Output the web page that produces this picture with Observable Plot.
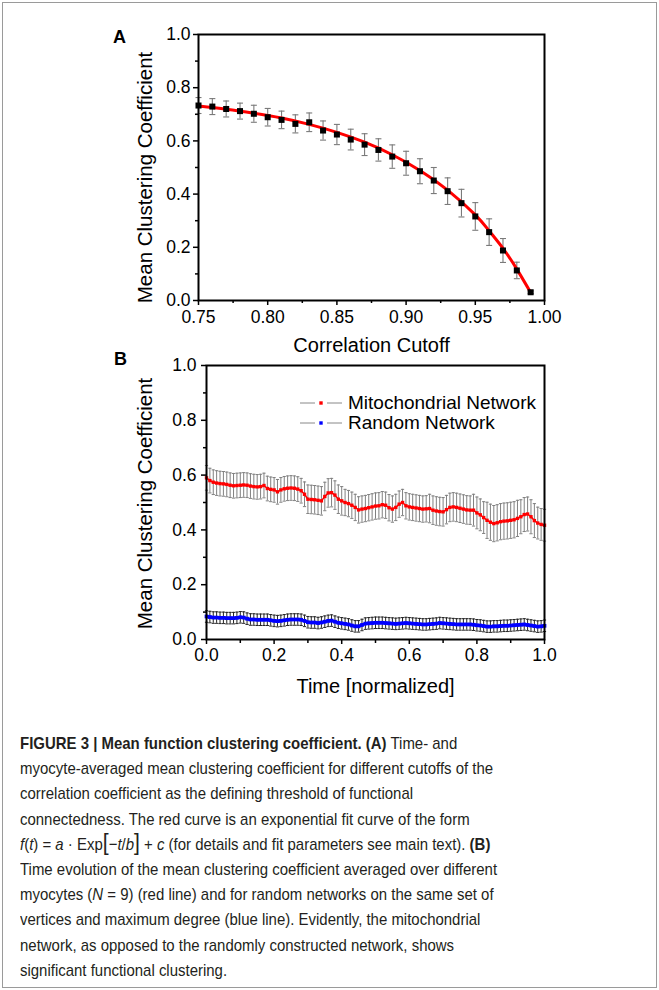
<!DOCTYPE html>
<html><head><meta charset="utf-8">
<script src="https://cdn.jsdelivr.net/npm/d3@7"></script>
<script src="https://cdn.jsdelivr.net/npm/@observablehq/plot@0.6"></script>
<style>
html,body{margin:0;padding:0;background:#fff;}
body{width:659px;height:990px;position:relative;overflow:hidden;font-family:"Liberation Sans",Arial,sans-serif;color:#000;}
#box{position:absolute;left:2px;top:2px;width:655px;height:986px;border:1px solid #9a9a9a;box-sizing:border-box;}
.panel{position:absolute;left:0;}
.plab{position:absolute;font-weight:bold;font-size:18px;line-height:18px;}
#legend{position:absolute;left:298px;top:393px;font-size:19px;line-height:20px;}
#legend .row{display:flex;align-items:center;height:20px;}
#legend svg{margin-right:4px;}
#caption{position:absolute;left:20px;top:731px;white-space:nowrap;font-family:"Liberation Sans Narrow","Liberation Sans",Arial,sans-serif;font-size:17px;line-height:25.2px;color:#231f20;transform:scaleX(0.88);transform-origin:0 0;}
#caption .bk{font-size:24px;line-height:10px;font-weight:300;}
</style></head>
<body>
<div id="box"></div>
<div id="panelA" class="panel" style="top:0px"></div>
<div id="panelB" class="panel" style="top:340px"></div>
<div class="plab" style="left:113px;top:28px">A</div>
<div class="plab" style="left:114px;top:350px">B</div>
<div id="legend">
  <div class="row"><svg width="46" height="20"><line x1="2" x2="17" y1="10" y2="10" stroke="#888" stroke-width="1"/><rect x="21.3" y="8.3" width="3.4" height="3.4" fill="#ff0000"/><line x1="29" x2="44" y1="10" y2="10" stroke="#888" stroke-width="1"/></svg><span>Mitochondrial Network</span></div>
  <div class="row"><svg width="46" height="20"><line x1="2" x2="17" y1="10" y2="10" stroke="#888" stroke-width="1"/><rect x="21.3" y="8.3" width="3.4" height="3.4" fill="#0000ff"/><line x1="29" x2="44" y1="10" y2="10" stroke="#888" stroke-width="1"/></svg><span>Random Network</span></div>
</div>
<div id="caption">
<b>FIGURE 3 | Mean function clustering coefficient. (A)</b> Time- and<br>
myocyte-averaged mean clustering coefficient for different cutoffs of the<br>
correlation coefficient as the defining threshold of functional<br>
connectedness. The red curve is an exponential fit curve of the form<br>
<i>f</i>(<i>t</i>) = <i>a</i> · Exp<span class="bk">[</span>−<i>t</i>/<i>b</i><span class="bk">]</span> + <i>c</i> (for details and fit parameters see main text). <b>(B)</b><br>
Time evolution of the mean clustering coefficient averaged over different<br>
myocytes (<i>N</i> = 9) (red line) and for random networks on the same set of<br>
vertices and maximum degree (blue line). Evidently, the mitochondrial<br>
network, as opposed to the randomly constructed network, shows<br>
significant functional clustering.
</div>
<script>
// ---------- Panel A data ----------
const cutoffA = [0.75,0.76,0.77,0.78,0.79,0.80,0.81,0.82,0.83,0.84,0.85,0.86,0.87,0.88,0.89,0.90,0.91,0.92,0.93,0.94,0.95,0.96,0.97,0.98,0.99];
const meanA   = [0.733,0.729,0.720,0.712,0.702,0.689,0.679,0.664,0.670,0.639,0.624,0.605,0.586,0.566,0.541,0.516,0.486,0.451,0.411,0.366,0.316,0.257,0.188,0.113,0.031];
const errA    = [0.030,0.030,0.030,0.030,0.032,0.033,0.033,0.034,0.035,0.036,0.038,0.039,0.041,0.042,0.044,0.045,0.047,0.049,0.050,0.052,0.052,0.050,0.045,0.031,0.005];
const fitXA   = [0.75,0.77,0.79,0.81,0.83,0.85,0.87,0.89,0.91,0.93,0.95,0.96,0.97,0.98,0.99];
const fitYA   = [0.731,0.719,0.704,0.686,0.662,0.632,0.595,0.548,0.489,0.415,0.322,0.262,0.196,0.118,0.030];
const xTicksA = [0.75,0.80,0.85,0.90,0.95,1.00];
const xMinorA = [0.775,0.825,0.875,0.925,0.975];
const yTicks  = [0,0.2,0.4,0.6,0.8,1.0];
const yMinor  = [0.1,0.3,0.5,0.7,0.9];
const xTitleA = "Correlation Cutoff";
const yTitle  = "Mean Clustering Coefficient";

// ---------- Panel B data ----------
const xTicksB = [0,0.2,0.4,0.6,0.8,1.0];
const xMinorB = [0.1,0.3,0.5,0.7,0.9];
const xTitleB = "Time [normalized]";
const mitoB = [
0.590,0.580,0.574,0.571,0.569,0.568,0.566,0.563,0.561,0.562,
0.563,0.564,0.563,0.560,0.558,0.557,0.558,0.562,0.551,0.548,
0.546,0.539,0.546,0.550,0.552,0.553,0.552,0.549,0.543,0.530,
0.512,0.511,0.510,0.508,0.506,0.522,0.535,0.536,0.527,0.512,
0.506,0.500,0.496,0.490,0.482,0.473,0.476,0.478,0.481,0.484,
0.487,0.488,0.492,0.490,0.481,0.476,0.482,0.494,0.500,0.488,
0.484,0.482,0.480,0.478,0.476,0.477,0.478,0.472,0.469,0.467,
0.466,0.474,0.482,0.484,0.482,0.479,0.476,0.473,0.472,0.472,
0.462,0.455,0.445,0.435,0.428,0.423,0.426,0.430,0.432,0.433,
0.435,0.437,0.442,0.448,0.456,0.458,0.448,0.434,0.425,0.420,
0.417];
const mitoErrB = [
0.045,0.045,0.045,0.045,0.045,0.045,0.045,0.045,0.045,0.045,
0.045,0.045,0.045,0.045,0.045,0.045,0.045,0.045,0.045,0.045,
0.045,0.045,0.045,0.045,0.045,0.045,0.045,0.045,0.045,0.045,
0.052,0.052,0.052,0.052,0.052,0.052,0.052,0.052,0.052,0.052,
0.052,0.048,0.048,0.048,0.048,0.048,0.048,0.048,0.048,0.048,
0.048,0.048,0.048,0.048,0.048,0.048,0.048,0.048,0.048,0.048,
0.048,0.048,0.048,0.048,0.048,0.048,0.052,0.052,0.052,0.052,
0.052,0.052,0.052,0.052,0.052,0.052,0.052,0.052,0.052,0.058,
0.058,0.058,0.058,0.066,0.066,0.066,0.066,0.066,0.066,0.066,
0.066,0.066,0.066,0.062,0.062,0.062,0.062,0.062,0.058,0.058,
0.058];
const randB = [
0.084,0.082,0.080,0.080,0.079,0.079,0.078,0.078,0.078,0.079,
0.081,0.080,0.076,0.073,0.073,0.072,0.072,0.072,0.072,0.070,
0.068,0.067,0.068,0.070,0.072,0.073,0.073,0.073,0.072,0.068,
0.063,0.062,0.062,0.060,0.062,0.065,0.068,0.069,0.065,0.061,
0.059,0.057,0.055,0.051,0.048,0.048,0.053,0.058,0.059,0.060,
0.061,0.061,0.061,0.060,0.059,0.058,0.057,0.058,0.059,0.060,
0.059,0.058,0.057,0.056,0.055,0.055,0.056,0.057,0.058,0.060,
0.059,0.058,0.057,0.056,0.055,0.055,0.055,0.055,0.055,0.054,
0.052,0.051,0.049,0.047,0.047,0.048,0.048,0.049,0.050,0.050,
0.051,0.052,0.053,0.054,0.055,0.053,0.051,0.049,0.047,0.048,
0.050];
const randErrB = [
0.021,0.021,0.021,0.021,0.021,0.021,0.021,0.021,0.021,0.021,
0.021,0.021,0.021,0.021,0.021,0.021,0.021,0.021,0.021,0.021,
0.021,0.021,0.021,0.021,0.021,0.021,0.021,0.021,0.021,0.021,
0.021,0.021,0.021,0.021,0.021,0.021,0.021,0.021,0.021,0.021,
0.021,0.021,0.021,0.021,0.021,0.021,0.021,0.021,0.021,0.021,
0.021,0.021,0.021,0.021,0.021,0.021,0.021,0.021,0.021,0.021,
0.021,0.021,0.021,0.021,0.021,0.021,0.021,0.021,0.021,0.021,
0.021,0.021,0.021,0.021,0.021,0.021,0.021,0.021,0.021,0.021,
0.021,0.021,0.021,0.021,0.021,0.021,0.021,0.021,0.021,0.021,
0.021,0.021,0.021,0.021,0.021,0.021,0.021,0.021,0.021,0.021,
0.021];
const timeB = mitoB.map((_, i) => i / (mitoB.length - 1));

// ---------- tables ----------
const dataA = cutoffA.map((x, i) => ({x, y: meanA[i], e: errA[i]}));
const fitA = fitXA.map((x, i) => ({x, y: fitYA[i]}));
const mito = timeB.map((x, i) => ({x, y: mitoB[i], e: mitoErrB[i]}));
const rand = timeB.map((x, i) => ({x, y: randB[i], e: randErrB[i]}));

const cap = (w) => ({draw(ctx) { ctx.moveTo(-w, 0); ctx.lineTo(w, 0); }});
const font = "'Liberation Sans', Arial, sans-serif";
const style = {background: "transparent", color: "black", fontFamily: font, overflow: "visible"};
const noText = () => "";

function errorMarks(data, color, capW, sw) {
  return [
    Plot.ruleX(data, {x: "x", y1: d => d.y - d.e, y2: d => d.y + d.e, stroke: color, strokeWidth: sw}),
    Plot.dot(data, {x: "x", y: d => d.y + d.e, symbol: cap(capW), r: 3, stroke: color, strokeWidth: sw, fill: "none"}),
    Plot.dot(data, {x: "x", y: d => d.y - d.e, symbol: cap(capW), r: 3, stroke: color, strokeWidth: sw, fill: "none"})
  ];
}

const plotA = Plot.plot({
  width: 659, height: 360,
  marginLeft: 198, marginRight: 115, marginTop: 34, marginBottom: 60,
  style,
  x: {domain: [0.75, 1.0]},
  y: {domain: [0, 1]},
  marks: [
    Plot.axisX(xTicksA, {tickSize: 5, tickPadding: 5, tickFormat: d3.format(".2f"), fontSize: 17.5, label: null, strokeWidth: 1.5}),
    Plot.axisX(xMinorA, {tickSize: 3, tickFormat: noText, label: null, strokeWidth: 1.5}),
    Plot.axisY(yTicks, {tickSize: 5, tickPadding: 3, tickFormat: d3.format(".1f"), fontSize: 17.5, label: null, strokeWidth: 1.5}),
    Plot.axisY(yMinor, {tickSize: 3, tickFormat: noText, label: null, strokeWidth: 1.5}),
    ...errorMarks(dataA, "#7a7a7a", 3, 1.1),
    Plot.line(fitA, {x: "x", y: "y", stroke: "#ff0000", strokeWidth: 3, curve: "natural"}),
    Plot.dot(dataA, {x: "x", y: "y", symbol: "square", r: 3.4, fill: "#000"}),
    Plot.frame({stroke: "#000", strokeWidth: 2}),
    Plot.text([xTitleA], {frameAnchor: "bottom", dy: 45, fontSize: 20, lineAnchor: "middle"}),
    Plot.text([yTitle], {frameAnchor: "left", dx: -53, dy: 10, rotate: -90, fontSize: 20.5, textAnchor: "middle", lineAnchor: "middle"})
  ]
});
document.getElementById("panelA").append(plotA);

const plotB = Plot.plot({
  width: 659, height: 384,
  marginLeft: 206, marginRight: 115, marginTop: 25, marginBottom: 85,
  style,
  x: {domain: [0, 1]},
  y: {domain: [0, 1]},
  marks: [
    Plot.axisX(xTicksB, {tickSize: 5, tickPadding: 4, tickFormat: d3.format(".1f"), fontSize: 17.5, label: null, strokeWidth: 1.5}),
    Plot.axisX(xMinorB, {tickSize: 4, tickFormat: noText, label: null, strokeWidth: 1.5}),
    Plot.axisY(yTicks, {tickSize: 5, tickPadding: 5, tickFormat: d3.format(".1f"), fontSize: 17.5, label: null, strokeWidth: 1.5}),
    Plot.axisY(yMinor, {tickSize: 3, tickFormat: noText, label: null, strokeWidth: 1.5}),
    ...errorMarks(mito, "#808080", 1.6, 1),
    Plot.line(mito, {x: "x", y: "y", stroke: "#ff0000", strokeWidth: 1.5}),
    Plot.dot(mito, {x: "x", y: "y", symbol: "square", r: 1.9, fill: "#ff0000"}),
    ...errorMarks(rand, "#222", 1.6, 1),
    Plot.line(rand, {x: "x", y: "y", stroke: "#0000ff", strokeWidth: 3}),
    Plot.dot(rand, {x: "x", y: "y", symbol: "square", r: 2.1, fill: "#0000ff"}),
    Plot.frame({stroke: "#000", strokeWidth: 2}),
    Plot.text([xTitleB], {frameAnchor: "bottom", dy: 47, fontSize: 20, lineAnchor: "middle"}),
    Plot.text([yTitle], {frameAnchor: "left", dx: -61, dy: 1, rotate: -90, fontSize: 20.5, textAnchor: "middle", lineAnchor: "middle"})
  ]
});
document.getElementById("panelB").append(plotB);
</script>
</body></html>
